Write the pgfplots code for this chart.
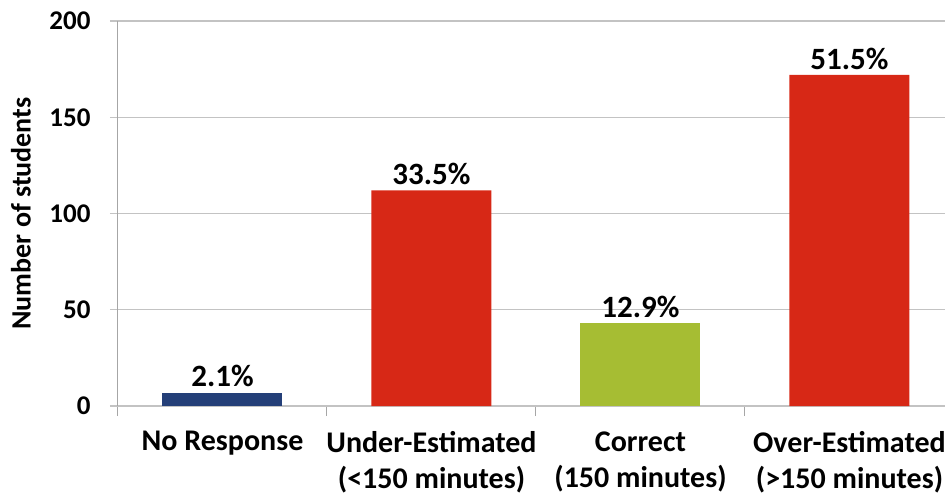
\documentclass[border=0pt]{standalone}
\usepackage{fontspec}
\setmainfont{Carlito}
\usepackage{pgfplots}
\pgfplotsset{compat=1.18}

\definecolor{navybar}{HTML}{243F78}
\definecolor{redbar}{HTML}{D72816}
\definecolor{greenbar}{HTML}{A6BD33}
\definecolor{gridgray}{HTML}{C3C3C3}
\definecolor{axisgray}{HTML}{A6A6A6}

\begin{document}
\begin{tikzpicture}[x=1pt,y=1pt]
\useasboundingbox (-118pt,-90pt) rectangle (827pt,406pt);
\begin{axis}[
  scale only axis,
  width=827pt, height=385pt,
  at={(0,0)}, anchor=south west,
  xmin=-0.5, xmax=3.457,
  ymin=0, ymax=200,
  ytick={0,50,100,150,200},
  xtick={0,1,2,3},
  xticklabels={No Response,{Under-Estimated\\(<150 minutes)},{Correct\\(150 minutes)},{Over-Estimated\\(>150 minutes)}},
  minor xtick={-0.5,0.5,1.5,2.5,3.5},
  major x tick style={draw=none},
  minor x tick style={draw=axisgray, line width=1pt},
  minor tick length=10pt,
  major tick length=8pt,
  tick align=outside,
  ymajorgrids,
  grid style={draw=gridgray, line width=1.2pt},
  y tick style={draw=gridgray, line width=1.2pt},
  axis x line*=bottom,
  axis y line*=left,
  x axis line style={draw=gridgray, line width=1.2pt, -},
  y axis line style={draw=axisgray, line width=1pt, -},
  yticklabel style={font=\fontsize{27}{32}\selectfont\bfseries, xshift=-16pt},
  xticklabel style={font=\fontsize{30}{36}\selectfont\bfseries, align=center, yshift=-14pt},
  /pgf/number format/assume math mode=true,
  ylabel={Number of students},
  every axis y label/.style={at={(axis description cs:0,0.5)}, rotate=90, anchor=center, yshift=97pt, font=\fontsize{28}{32}\selectfont\bfseries},
  ybar, bar width=120pt, bar shift=0pt,
  point meta=explicit symbolic,
  nodes near coords,
  every node near coord/.append style={font=\fontsize{31}{36}\selectfont\bfseries, black, yshift=2pt},
  clip=false,
]
\addplot[fill=navybar, draw=none] coordinates {(0,7) [2.1\%]};
\addplot[fill=redbar, draw=none] coordinates {(1,112) [33.5\%] (3,172) [51.5\%]};
\addplot[fill=greenbar, draw=none] coordinates {(2,43) [12.9\%]};
\end{axis}
\end{tikzpicture}
\end{document}
